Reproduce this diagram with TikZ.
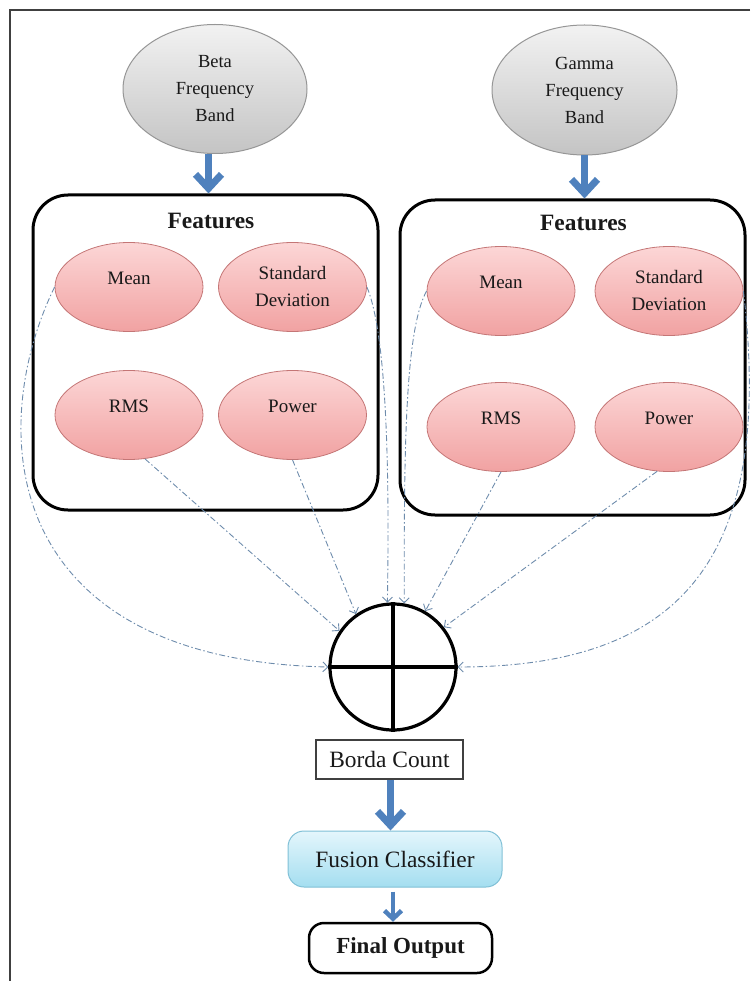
\documentclass[tikz,border=0pt]{standalone}
\usepackage{fontspec}
\setmainfont{Liberation Serif}
\usetikzlibrary{arrows.meta,shapes.geometric}

\definecolor{arrowblue}{RGB}{79,129,189}
\definecolor{linkblue}{RGB}{110,140,172}
\definecolor{pinktop}{RGB}{252,214,214}
\definecolor{pinkbot}{RGB}{241,162,162}
\definecolor{pinkedge}{RGB}{196,118,118}
\definecolor{graytop}{RGB}{242,242,242}
\definecolor{graybot}{RGB}{196,196,196}
\definecolor{grayedge}{RGB}{150,150,150}
\definecolor{cyantop}{RGB}{228,246,252}
\definecolor{cyanbot}{RGB}{164,222,240}
\definecolor{cyanedge}{RGB}{128,192,214}

\begin{document}
\begin{tikzpicture}[x=1pt,y=-1pt,
  band/.style={ellipse, draw=grayedge, line width=1pt, top color=graytop,
    bottom color=graybot, minimum width=184pt, minimum height=129pt,
    inner sep=0pt, align=center, font=\fontsize{18.5}{27}\selectfont, text=black!90},
  feat/.style={ellipse, draw=pinkedge, line width=0.8pt, top color=pinktop,
    bottom color=pinkbot, minimum width=148pt, minimum height=89pt,
    inner sep=0pt, align=center, font=\fontsize{19}{27}\selectfont, text=black!90},
  featone/.style={feat, text height=13pt, text depth=19pt},
  groupbox/.style={draw=black, line width=3pt, rounded corners=35pt,
    minimum width=345pt, minimum height=315pt},
  grouptitle/.style={font=\fontsize{23.4}{28}\selectfont\bfseries, text=black!90},
  summer/.style={circle, draw=black, line width=3.2pt, minimum size=126pt, inner sep=0pt},
  bordabox/.style={draw=black!75, line width=1.1pt, fill=white, minimum width=147pt,
    minimum height=39pt, font=\fontsize{23.4}{28}\selectfont, text=black!90},
  fusionbox/.style={draw=cyanedge, line width=1pt, rounded corners=16pt,
    top color=cyantop, bottom color=cyanbot, minimum width=214pt, minimum height=56pt,
    font=\fontsize{23.4}{28}\selectfont, text=black!90},
  outbox/.style={draw=black, line width=2.5pt, rounded corners=15pt, fill=white,
    minimum width=183pt, minimum height=50pt,
    font=\fontsize{23}{28}\selectfont\bfseries, text=black!90},
  bigarrow/.style={draw=arrowblue, line width=7pt,
    -{Straight Barb[length=14pt,width=26pt]}},
  smallarrow/.style={draw=arrowblue, line width=4.5pt,
    -{Straight Barb[length=8pt,width=17pt]}},
  link/.style={draw=linkblue, line width=0.9pt,
    dash pattern=on 6pt off 2.5pt on 1.5pt off 2.5pt,
    -{Straight Barb[length=5pt,width=10pt]}},
  framec/.style={draw=black!75, line width=1.3pt}
]
\useasboundingbox (0,0) rectangle (750,981);

% page frame (top and left edges only)
\draw[framec] (750,10) -- (10,10) -- (10,981);

% frequency bands
\node[band] (beta) at (215,89) {Beta\\Frequency\\Band};
\node[band, minimum width=185pt, minimum height=130pt] (gamma) at (584.5,90) {Gamma\\Frequency\\Band};

% feature groups
\node[groupbox] (bbox) at (205.5,352.5) {};
\node[groupbox] (gbox) at (572.5,357.5) {};
\node[grouptitle] (btitle) at (211,221) {Features};
\node[grouptitle] (gtitle) at (583.5,223) {Features};

\node[featone] (bm) at (129,287) {Mean};
\node[feat]    (bs) at (292.5,287) {Standard\\Deviation};
\node[featone] (br) at (129,415) {RMS};
\node[featone] (bp) at (292.5,415) {Power};

\node[featone] (gm) at (501,291) {Mean};
\node[feat]    (gs) at (669,291) {Standard\\Deviation};
\node[featone] (gr) at (501,427) {RMS};
\node[featone] (gp) at (669,427) {Power};

% band to feature arrows
\draw[bigarrow] ([xshift=3pt]beta.south -| bbox.north) -- ([xshift=3pt]bbox.north);
\draw[bigarrow] (gamma.south) -- (gamma.south |- gbox.north);

% fusion node
\node[summer] (sum) at (393,667) {};
\draw[line width=3.2pt] (sum.north) -- (sum.south);
\draw[line width=3.2pt] (sum.west) -- (sum.east);

% feature links into the fusion node
\draw[link] (bm.west) .. controls (-15,430) and (0,660) .. (sum.west);
\draw[link] (br.-70) -- (sum.146);
\draw[link] (bp.south) -- (sum.125);
\draw[link] (bs.east) .. controls (385,330) and (390,450) .. (sum.95);
\draw[link] (gm.west) .. controls (405,330) and (404,450) .. (sum.80);
\draw[link] (gr.south) -- (sum.60);
\draw[link] (gp.-105) -- (sum.38);
\draw[link] (gs.east) .. controls (775,560) and (680,667) .. (sum.east);

% lower chain
\node[bordabox] (borda) at (389.5,759.5) {Borda Count};
\node[fusionbox] (fusion) at (395,859) {Fusion Classifier};
\node[outbox] (final) at (400.5,948) {Final Output};

\draw[bigarrow] ([xshift=1pt]borda.south) -- ([xshift=1pt]borda.south |- fusion.north);
\draw[smallarrow, shorten <=4pt] ([xshift=-2pt]fusion.south) -- ([xshift=-2pt]fusion.south |- final.north);
\end{tikzpicture}
\end{document}
